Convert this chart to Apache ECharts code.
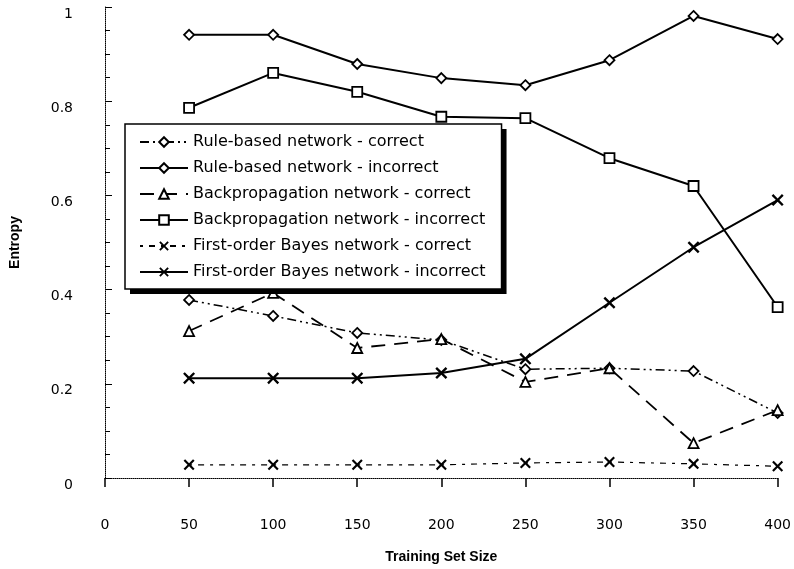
<!DOCTYPE html>
<html>
<head>
<meta charset="utf-8">
<script src="https://cdn.jsdelivr.net/npm/echarts@6/dist/echarts.min.js"></script>
<style>html,body{margin:0;padding:0;background:#fff;}#c{width:794px;height:569px;}</style>
</head>
<body>
<div id="c"></div>
<script>
var sizes = [50, 100, 150, 200, 250, 300, 350, 400];
var ruleCorrect   = [0.378, 0.344, 0.308, 0.293, 0.231, 0.233, 0.227, 0.138];
var ruleIncorrect = [0.941, 0.941, 0.879, 0.849, 0.834, 0.887, 0.981, 0.932];
var bpCorrect     = [0.312, 0.393, 0.276, 0.295, 0.204, 0.233, 0.074, 0.144];
var bpIncorrect   = [0.786, 0.860, 0.820, 0.767, 0.764, 0.679, 0.620, 0.363];
var bayesCorrect  = [0.028, 0.028, 0.028, 0.028, 0.032, 0.034, 0.030, 0.025];
var bayesIncorrect= [0.212, 0.212, 0.212, 0.223, 0.253, 0.372, 0.490, 0.590];
var seriesNames = [
  'Rule-based network - correct',
  'Rule-based network - incorrect',
  'Backpropagation network - correct',
  'Backpropagation network - incorrect',
  'First-order Bayes network - correct',
  'First-order Bayes network - incorrect'
];

function pairs(vals){ return sizes.map(function(s,i){ return [s, vals[i]]; }); }
var xPath = 'path://M0,1.4 L1.4,0 L5,3.6 L8.6,0 L10,1.4 L6.4,5 L10,8.6 L8.6,10 L5,6.4 L1.4,10 L0,8.6 L3.6,5 Z';
var hollow = {color:'#fff', borderColor:'#000', borderWidth:1.8};
var solidBlack = {color:'#000', borderColor:'#000', borderWidth:0};

function mk(name, vals, symbol, size, item, lineType, width){
  return {
    name: name, type: 'line', data: pairs(vals),
    symbol: symbol, symbolSize: size, showSymbol: true,
    itemStyle: item,
    lineStyle: {color:'#000', width: width, type: lineType},
    emphasis: {disabled: true}, animation: false
  };
}

var legendBase = {
  orient: 'vertical', left: 125, top: 124,
  data: seriesNames,
  borderRadius: 0,
  padding: [10, 16, 9, 14],
  itemWidth: 48, itemHeight: 12, itemGap: 10,
  selectedMode: false
};

var legendShadow = Object.assign({}, legendBase, {
  backgroundColor: '#fff', borderWidth: 0,
  shadowColor: '#000', shadowBlur: 0, shadowOffsetX: 5, shadowOffsetY: 5,
  textStyle: {fontSize: 16, color:'#000', fontFamily:'DejaVu Sans'}
});
var legendFrame = Object.assign({}, legendBase, {
  backgroundColor: 'transparent', borderColor: '#000', borderWidth: 1.5,
  textStyle: {fontSize: 16, color:'rgba(0,0,0,0)', fontFamily:'DejaVu Sans'},
  itemStyle: {opacity: 0}, lineStyle: {opacity: 0}
});

var chart = echarts.init(document.getElementById('c'), null, {renderer:'canvas'});
chart.setOption({
  backgroundColor: '#fff',
  animation: false,
  textStyle: {fontFamily: 'DejaVu Sans', color:'#000'},
  grid: {left: 105, right: 16, top: 7, bottom: 91},
  xAxis: {
    type: 'value', min: 0, max: 400, interval: 50,
    name: 'Training Set Size', nameLocation: 'middle', nameGap: 72,
    nameTextStyle: {fontFamily:'Liberation Sans', fontWeight:'bold', fontSize:14, color:'#000'},
    axisLine: {show:true, lineStyle:{color:'#000', width:1, type:'dotted'}},
    axisTick: {show:true, inside:false, length:9, lineStyle:{color:'#000', width:1.5}},
    axisLabel: {margin: 40, fontSize: 14, color:'#000', fontFamily:'DejaVu Sans'},
    splitLine: {show:false}
  },
  yAxis: {
    type: 'value', min: 0, max: 1, interval: 0.2,
    name: 'Entropy', nameLocation: 'middle', nameGap: 83, nameRotate: 90,
    nameTextStyle: {fontFamily:'Liberation Sans', fontWeight:'bold', fontSize:14, color:'#000'},
    axisLine: {show:true, lineStyle:{color:'#000', width:1, type:'dotted'}},
    axisTick: {show:true, inside:true, length:7, lineStyle:{color:'#000', width:1}},
    minorTick: {show:true, splitNumber:4, length:5, lineStyle:{color:'#000', width:1}},
    axisLabel: {margin: 32, fontSize: 14, color:'#000', fontFamily:'DejaVu Sans', verticalAlign:'top'},
    splitLine: {show:false}
  },
  legend: [legendShadow, legendFrame],
  series: [
    mk(seriesNames[0], ruleCorrect, 'diamond', 10, hollow, [9,4,2,4,2,4], 1.5),
    mk(seriesNames[1], ruleIncorrect, 'diamond', 10, hollow, 'solid', 2),
    mk(seriesNames[2], bpCorrect, 'triangle', 10, hollow, [14,9], 1.8),
    mk(seriesNames[3], bpIncorrect, 'rect', 10, hollow, 'solid', 2),
    mk(seriesNames[4], bayesCorrect, xPath, 11, solidBlack, [3,6,6,6], 1.2),
    mk(seriesNames[5], bayesIncorrect, xPath, 12, solidBlack, 'solid', 2)
  ]
});
</script>
</body>
</html>
